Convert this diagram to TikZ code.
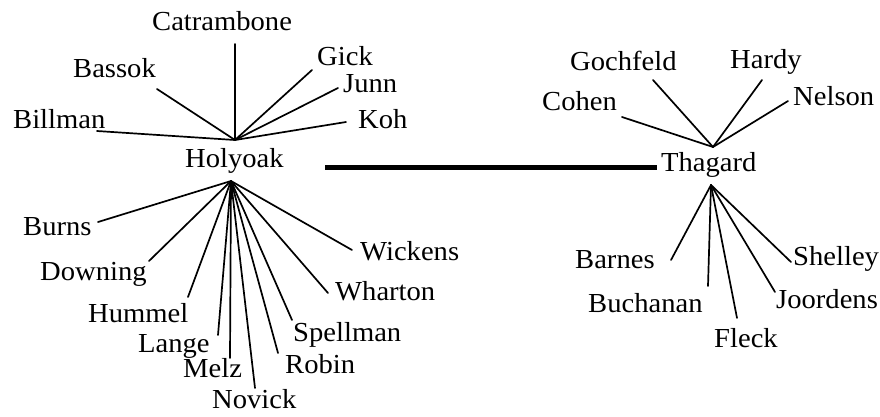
\documentclass[tikz,border=0pt]{standalone}
\usepackage{fontspec}
\setmainfont{Liberation Serif}[FakeStretch=1.04]
\begin{document}
\begin{tikzpicture}[x=1pt,y=-1pt,
  person/.style={anchor=base west,inner sep=0pt,font=\fontsize{27.5}{30}\selectfont},
  spoke/.style={line width=1.7pt,line cap=round},
  link/.style={line width=5pt}]
\useasboundingbox (0,0) rectangle (880,416);
% Holyoak cluster
\node[person] (holyoak) at (185,167.5) {Holyoak};
\coordinate (hT) at (235,140);
\coordinate (hB) at (231,181);
\node[person] (catrambone) at (152,30) {Catrambone};
\node[person] (bassok) at (73,77) {Bassok};
\node[person] (billman) at (13,128) {Billman};
\node[person] (gick) at (317,65) {Gick};
\node[person] (junn) at (343,92) {Junn};
\node[person] (koh) at (358,128) {Koh};
\node[person] (burns) at (23,235) {Burns};
\node[person] (downing) at (40,280) {Downing};
\node[person] (hummel) at (88,322) {Hummel};
\node[person] (lange) at (138,352) {Lange};
\node[person] (melz) at (183,377) {Melz};
\node[person] (novick) at (212,408) {Novick};
\node[person] (robin) at (285,373) {Robin};
\node[person] (spellman) at (293,341) {Spellman};
\node[person] (wharton) at (335,300) {Wharton};
\node[person] (wickens) at (360,260) {Wickens};
\coordinate (eCatrambone) at (235,44);
\coordinate (eBassok) at (157,89);
\coordinate (eBillman) at (97,131);
\coordinate (eGick) at (312,70);
\coordinate (eJunn) at (338,88);
\coordinate (eKoh) at (346,122);
\coordinate (eBurns) at (98,222);
\coordinate (eDowning) at (149,261);
\coordinate (eHummel) at (188,297);
\coordinate (eLange) at (218,335);
\coordinate (eMelz) at (230,358);
\coordinate (eNovick) at (255,388);
\coordinate (eRobin) at (278,353);
\coordinate (eSpellman) at (292,320);
\coordinate (eWharton) at (328,293);
\coordinate (eWickens) at (352,250);
\foreach \e in {Catrambone,Bassok,Billman,Gick,Junn,Koh}
  \draw[spoke] (hT) -- (e\e);
\foreach \e in {Burns,Downing,Hummel,Lange,Melz,Novick,Robin,Spellman,Wharton,Wickens}
  \draw[spoke] (hB) -- (e\e);
% Thagard cluster
\node[person] (thagard) at (661,171) {Thagard};
\coordinate (tT) at (713,147);
\coordinate (tB) at (711,185);
\node[person] (cohen) at (542,110) {Cohen};
\node[person] (gochfeld) at (570,70) {Gochfeld};
\node[person] (hardy) at (730,68) {Hardy};
\node[person] (nelson) at (793,105) {Nelson};
\node[person] (barnes) at (575,268) {Barnes};
\node[person] (buchanan) at (588,312) {Buchanan};
\node[person] (fleck) at (714,347) {Fleck};
\node[person] (joordens) at (776,308) {Joordens};
\node[person] (shelley) at (793,265) {Shelley};
\coordinate (eCohen) at (622,117);
\coordinate (eGochfeld) at (653,80);
\coordinate (eHardy) at (762,80);
\coordinate (eNelson) at (788,101);
\coordinate (eBarnes) at (671,260);
\coordinate (eBuchanan) at (708,286);
\coordinate (eFleck) at (737,318);
\coordinate (eJoordens) at (775,292);
\coordinate (eShelley) at (791,262);
\foreach \e in {Cohen,Gochfeld,Hardy,Nelson}
  \draw[spoke] (tT) -- (e\e);
\foreach \e in {Barnes,Buchanan,Fleck,Joordens,Shelley}
  \draw[spoke] (tB) -- (e\e);
% link
\coordinate (lA) at (325,167.5);
\coordinate (lB) at (657,167.5);
\draw[link] (lA) -- (lB);
\end{tikzpicture}
\end{document}
